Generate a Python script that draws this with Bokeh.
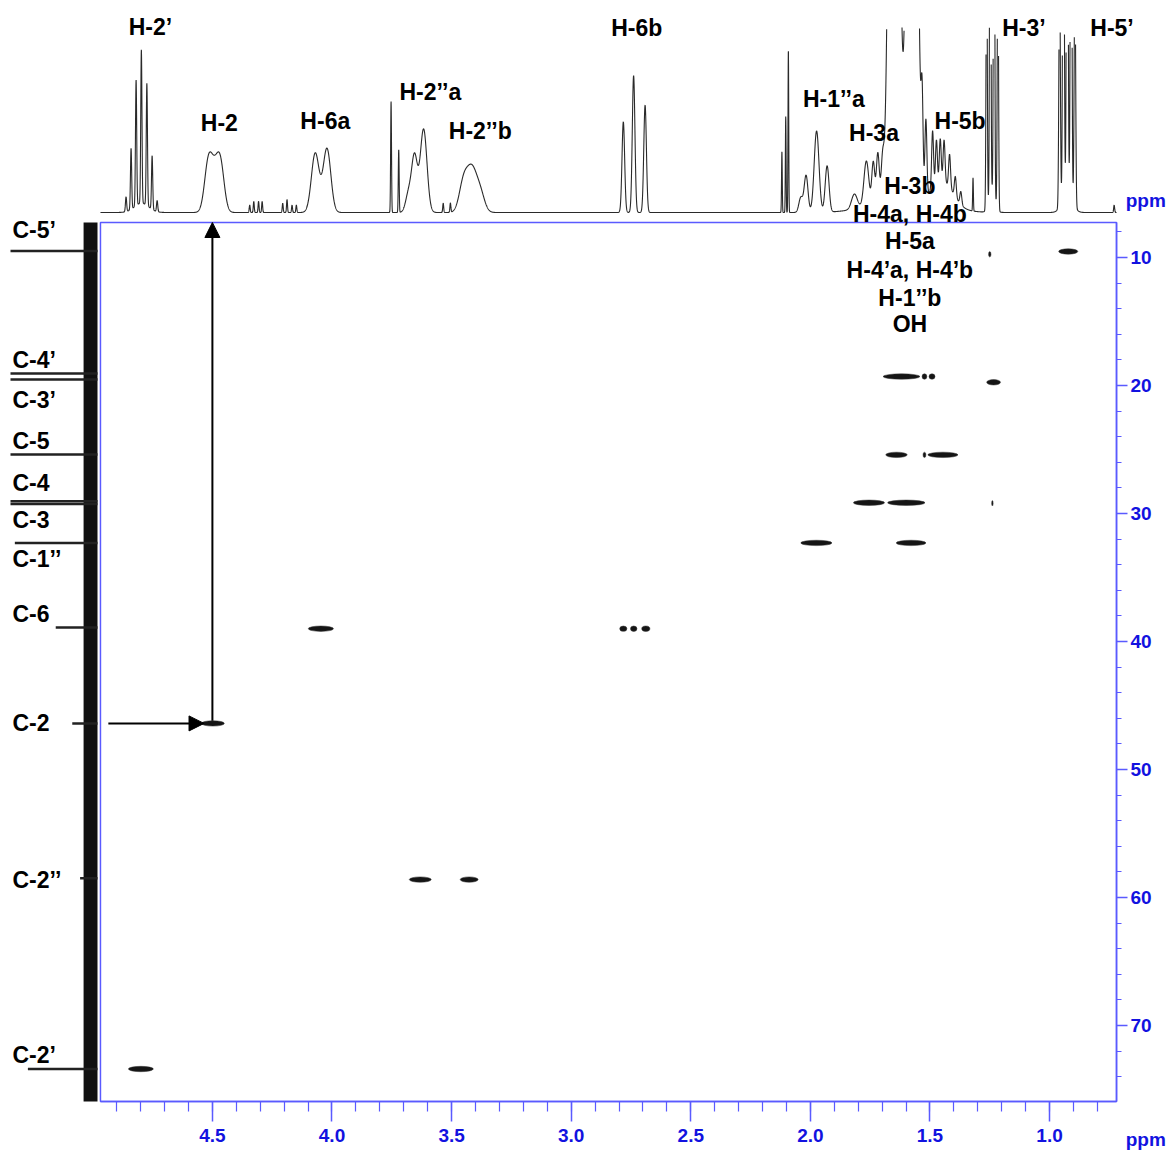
import numpy as np
from bokeh.plotting import figure
from bokeh.models import (Range1d, LinearAxis, SingleIntervalTicker, Label, Arrow,
                          NormalHead, ColumnDataSource, PrintfTickFormatter)
from bokeh.embed import file_html
from bokeh.resources import INLINE

# ---------------- data ----------------
# 1H spectrum: peak list (ppm, relative height, gaussian sigma in ppm)
h_peak_ppm = [4.861, 4.840, 4.819, 4.797, 4.774, 4.752, 4.731, 4.796,
              4.517, 4.492, 4.467,
              4.344, 4.327, 4.307, 4.292, 4.206, 4.188, 4.167, 4.149,
              4.070, 4.021,
              3.753, 3.721,
              3.680, 3.655, 3.617,
              3.535, 3.505,
              3.450, 3.415, 3.380,
              2.782, 2.739, 2.691,
              2.119, 2.103, 2.092,
              2.040, 2.018, 1.974, 1.930,
              1.816, 1.766, 1.737, 1.718, 1.698,
              1.650, 1.575, 1.533, 1.517, 1.600,
              1.489, 1.473, 1.457, 1.441, 1.418, 1.394, 1.371, 1.440,
              1.320,
              1.263, 1.248, 1.232, 1.216, 1.240,
              0.958, 0.942, 0.926, 0.910, 0.894, 0.926,
              0.730]
h_peak_height = [0.08, 0.33, 0.68, 0.83, 0.66, 0.29, 0.06, 0.05,
                 0.262, 0.155, 0.262,
                 0.04, 0.06, 0.06, 0.06, 0.05, 0.07, 0.04, 0.04,
                 0.32, 0.345,
                 0.60, 0.34,
                 0.10, 0.30, 0.45,
                 0.05, 0.05,
                 0.16, 0.22, 0.10,
                 0.49, 0.74, 0.58,
                 0.33, 0.52, 0.88,
                 0.08, 0.20, 0.44, 0.25,
                 0.08, 0.24, 0.22, 0.26, 0.20,
                 6.0, 6.0, 0.45, 0.40, 0.10,
                 0.32, 0.25, 0.24, 0.23, 0.18, 0.11, 0.07, 0.12,
                 0.18,
                 1.5, 2.5, 2.5, 1.5, 0.12,
                 1.3, 2.5, 3.0, 2.5, 1.3, 0.12,
                 0.04]
h_peak_sigma = [0.0025, 0.0025, 0.0025, 0.0025, 0.0025, 0.0025, 0.0025, 0.03,
                0.016, 0.016, 0.016,
                0.002, 0.002, 0.002, 0.002, 0.002, 0.002, 0.002, 0.002,
                0.016, 0.016,
                0.0018, 0.0018,
                0.012, 0.012, 0.014,
                0.002, 0.002,
                0.018, 0.02, 0.018,
                0.0055, 0.0055, 0.0055,
                0.0015, 0.0015, 0.0015,
                0.008, 0.008, 0.010, 0.008,
                0.012, 0.010, 0.006, 0.006, 0.006,
                0.016, 0.016, 0.004, 0.004, 0.12,
                0.004, 0.004, 0.004, 0.004, 0.004, 0.004, 0.004, 0.04,
                0.0015,
                0.0025, 0.0025, 0.0025, 0.0025, 0.012,
                0.003, 0.003, 0.003, 0.003, 0.003, 0.02,
                0.002]

# 13C spectrum: peak positions (ppm) and relative intensities
c_peak_ppm = [9.5, 19.06, 19.53, 25.4, 29.05, 29.25, 32.3, 38.9, 46.4, 58.5, 73.4]
c_peak_int = [1.0, 1.0, 1.0, 1.0, 1.0, 1.0, 0.95, 0.48, 0.29, 0.20, 0.80]
c_labels = ["C-5\u2019", "C-4\u2019", "C-3\u2019", "C-5", "C-4", "C-3",
            "C-1\u2019\u2019", "C-6", "C-2", "C-2\u2019\u2019", "C-2\u2019"]

# HSQC cross peaks: 1H extent (from, to) and 13C shift
cp_h_from = [0.962, 1.255, 1.696, 1.533, 1.504, 1.263, 1.685, 1.529, 1.509,
             1.820, 1.677, 1.242, 2.040, 1.641, 4.099, 2.797, 2.752, 2.705,
             4.546, 3.677, 3.464, 4.851]
cp_h_to = [0.882, 1.245, 1.542, 1.513, 1.479, 1.205, 1.595, 1.517, 1.383,
           1.690, 1.521, 1.236, 1.910, 1.517, 3.994, 2.767, 2.725, 2.671,
           4.450, 3.585, 3.389, 4.747]
cp_c = [9.53, 9.75, 19.3, 19.3, 19.3, 19.75, 25.42, 25.42, 25.42,
        29.16, 29.16, 29.2, 32.3, 32.3, 39.0, 39.0, 39.0, 39.0,
        46.4, 58.6, 58.6, 73.4]

h_labels = ["H-2\u2019", "H-2", "H-6a", "H-2\u2019\u2019a", "H-2\u2019\u2019b", "H-6b",
            "H-1\u2019\u2019a", "H-3a", "H-5b", "H-3\u2019", "H-5\u2019"]
overlap_labels = ["H-3b", "H-4a, H-4b", "H-5a", "H-4\u2019a, H-4\u2019b", "H-1\u2019\u2019b", "OH"]

x_ticks_interval = 0.5
y_ticks_interval = 10

# ---------------- styling ----------------
BLUE_LINE = "#5a5aff"
BLUE_TEXT = "#1212e0"
FONT = "Liberation Sans"

# 2D box limits (ppm)
H_LEFT, H_RIGHT = 4.968, 0.72
C_TOP, C_BOTTOM = 7.266, 75.94

p = figure(width=1170, height=1150,
           x_range=Range1d(5.3859, 0.4944), y_range=Range1d(79.766, -10.078),
           output_backend="svg", toolbar_location=None,
           x_axis_location=None, y_axis_location=None,
           min_border_left=0, min_border_top=0, min_border_right=0, min_border_bottom=0)
p.outline_line_color = None
p.background_fill_color = "white"
p.border_fill_color = "white"
p.grid.visible = False
p.extra_y_ranges = {"h": Range1d(-5.0703, 1.1459)}
p.extra_x_ranges = {"c": Range1d(1.1149, -12.333)}

# axes, drawn on the edges of the 2D box
xax = LinearAxis(ticker=SingleIntervalTicker(interval=x_ticks_interval, num_minor_ticks=5),
                 bounds=(H_RIGHT, H_LEFT), formatter=PrintfTickFormatter(format="%.1f"),
                 fixed_location=C_BOTTOM)
yax = LinearAxis(ticker=SingleIntervalTicker(interval=y_ticks_interval, num_minor_ticks=5),
                 bounds=(C_TOP, C_BOTTOM), formatter=PrintfTickFormatter(format="%d"),
                 fixed_location=H_RIGHT)
for ax in (xax, yax):
    ax.axis_line_color = BLUE_LINE
    ax.axis_line_width = 1.5
    ax.major_tick_line_color = BLUE_LINE
    ax.minor_tick_line_color = BLUE_LINE
    ax.major_tick_line_width = 1.5
    ax.minor_tick_line_width = 1.2
    ax.major_tick_in = 0
    ax.minor_tick_in = 0
    ax.major_label_text_color = BLUE_TEXT
    ax.major_label_text_font_style = "bold"
    ax.major_label_text_font = FONT
xax.major_tick_out = 20
xax.minor_tick_out = 10
xax.major_label_standoff = 7
xax.major_label_text_font_size = "19px"
yax.major_tick_out = 11
yax.minor_tick_out = 5
yax.major_label_standoff = 3
yax.major_label_text_font_size = "19px"
p.add_layout(xax, "below")
p.add_layout(yax, "right")

# frame box of 2D plot
p.quad(left=[H_LEFT], right=[H_RIGHT], top=[C_TOP], bottom=[C_BOTTOM],
       fill_color=None, line_color=BLUE_LINE, line_width=1.5)

# 1H trace
grid = np.linspace(H_LEFT, H_RIGHT, 9000)
spec = np.zeros_like(grid)
for ppm, hgt, sg in zip(h_peak_ppm, h_peak_height, h_peak_sigma):
    spec += hgt * np.exp(-(grid - ppm) ** 2 / (2 * sg ** 2))
spec_plot = np.where(spec > 1.0, np.nan, spec)
p.line(grid, spec_plot, y_range_name="h", line_color="#2a2a2a", line_width=1.1)

# 13C trace: noise band + peaks
p.quad(left=[0.0], right=[0.16], top=[C_TOP], bottom=[C_BOTTOM], x_range_name="c",
       fill_color="#111111", line_color=None)
csrc = ColumnDataSource(dict(ppm=c_peak_ppm, inten=c_peak_int, zero=[0.0] * len(c_peak_ppm)))
p.segment(x0="zero", y0="ppm", x1="inten", y1="ppm", source=csrc, x_range_name="c",
          line_color="#222222", line_width=2.5)

# HSQC cross peaks
cx = [(a + b) / 2 for a, b in zip(cp_h_from, cp_h_to)]
cw = [abs(a - b) for a, b in zip(cp_h_from, cp_h_to)]
p.ellipse(x=cx, y=cp_c, width=cw, height=0.42, fill_color="#151515", line_color="#333333",
          line_width=0.5)

# arrows (C-2 / H-2 correlation)
p.add_layout(Arrow(end=NormalHead(size=15, fill_color="black", line_color="black"),
                   x_start=4.935, y_start=46.4, x_end=4.535, y_end=46.4,
                   line_color="black", line_width=2))
p.add_layout(Arrow(end=NormalHead(size=15, fill_color="black", line_color="black"),
                   x_start=4.5, y_start=46.2, x_end=4.5, y_end=C_TOP,
                   line_color="black", line_width=2))

# labels
def lab(text, x, y, xr="default", yr="default", align="center", color="black", size="23px"):
    p.add_layout(Label(x=x, y=y, text=text, x_range_name=xr, y_range_name=yr,
                       text_align=align, text_baseline="middle", text_color=color,
                       text_font=FONT, text_font_style="bold", text_font_size=size))

h_label_pos = [(4.759, 1.0), (4.471, 0.486), (4.028, 0.492), (3.589, 0.654), (3.380, 0.443),
               (2.726, 0.995), (1.902, 0.611), (1.734, 0.427), (1.374, 0.497),
               (1.107, 0.995), (0.739, 0.995)]
for t, (x, y) in zip(h_labels, h_label_pos):
    lab(t, x, y, yr="h")

overlap_y = [4.45, 6.64, 8.75, 10.94, 13.13, 15.23]
for t, y in zip(overlap_labels, overlap_y):
    lab(t, 1.584, y)

c_label_y = [7.89, 17.97, 21.17, 24.375, 27.58, 30.47, 33.52, 37.89, 46.33, 58.67, 72.34]
for t, y in zip(c_labels, c_label_y):
    lab(t, 0.977, y, xr="c", align="left")

lab("ppm", 0.598, 5.55, color=BLUE_TEXT, size="19px")
lab("ppm", 0.598, 78.9, color=BLUE_TEXT, size="19px")

open("out.html", "w").write(file_html(p, INLINE))
